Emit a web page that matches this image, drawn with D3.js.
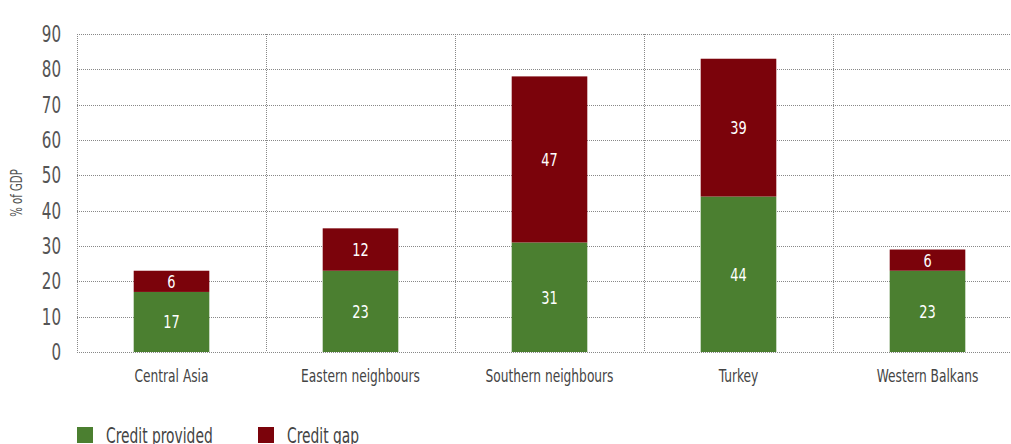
<!DOCTYPE html>
<html>
<head>
<meta charset="utf-8">
<script src="https://cdn.jsdelivr.net/npm/d3@7"></script>
<style>
  body { margin: 0; background: #fff; }
  text { font-family: "Liberation Sans Narrow", "DejaVu Sans Condensed", sans-serif; }
</style>
</head>
<body>
<div id="chart"></div>
<script>
var regions = ['Central Asia', 'Eastern neighbours', 'Southern neighbours', 'Turkey', 'Western Balkans'];
var provided = [17, 23, 31, 44, 23];
var gap = [6, 12, 47, 39, 6];
var seriesNames = ['Credit provided', 'Credit gap'];
var seriesColors = ['#4b7f30', '#7b030b'];
var yTicks = [0, 10, 20, 30, 40, 50, 60, 70, 80, 90];

var W = 1011, H = 444;
var m = { top: 34, left: 77, bottom: 92, plotW: 945 };
var plotH = H - m.top - m.bottom;

var svg = d3.select('#chart').append('svg').attr('width', W).attr('height', H);

var x = d3.scaleBand().domain(regions).range([m.left, m.left + m.plotW]).paddingInner(0.6).paddingOuter(0.3);
var y = d3.scaleLinear().domain([0, 90]).range([m.top + plotH, m.top]);

var rows = regions.map(function (r, i) { return { region: r, provided: provided[i], gap: gap[i] }; });
var stack = d3.stack().keys(['provided', 'gap'])(rows);

// squeeze text sideways around its own anchor x (no narrow font installed)
function condense(sel, sx) {
  sel.each(function () {
    var t = d3.select(this);
    var ax = +t.attr('x') || 0;
    var pre = t.attr('transform') || '';
    t.attr('transform', pre + ' translate(' + ax + ',0) scale(' + sx + ',1) translate(' + (-ax) + ',0)');
  });
}

// grid
var grid = svg.append('g');
grid.selectAll('line.h').data(yTicks).enter().append('line')
  .attr('x1', m.left).attr('x2', W)
  .attr('y1', function (d) { return Math.round(y(d)) + 0.5; })
  .attr('y2', function (d) { return Math.round(y(d)) + 0.5; })
  .attr('stroke', '#888').attr('stroke-width', 1).attr('stroke-dasharray', '1,1');
var step = x.step();
var vlines = d3.range(regions.length + 1).map(function (i) { return m.left + i * step; });
grid.selectAll('line.v').data(vlines).enter().append('line')
  .attr('x1', function (d) { return Math.round(d) + 0.5; })
  .attr('x2', function (d) { return Math.round(d) + 0.5; })
  .attr('y1', y(90)).attr('y2', y(0))
  .attr('stroke', '#888').attr('stroke-width', 1).attr('stroke-dasharray', '1,1');

// bars
var layer = svg.selectAll('g.layer').data(stack).enter().append('g')
  .attr('fill', function (d, i) { return seriesColors[i]; });
layer.selectAll('rect').data(function (d) { return d; }).enter().append('rect')
  .attr('x', function (d) { return x(d.data.region); })
  .attr('width', x.bandwidth())
  .attr('y', function (d) { return y(d[1]); })
  .attr('height', function (d) { return y(d[0]) - y(d[1]); });

var vals = layer.selectAll('text').data(function (d) { return d; }).enter().append('text')
  .attr('x', function (d) { return x(d.data.region) + x.bandwidth() / 2; })
  .attr('y', function (d) { return (y(d[0]) + y(d[1])) / 2; })
  .attr('dy', '0.36em')
  .attr('text-anchor', 'middle')
  .attr('fill', '#fff')
  .attr('font-size', 18)
  .text(function (d) { return d[1] - d[0]; });
condense(vals, 0.8);

// y axis
var yAxis = svg.append('g').attr('transform', 'translate(' + (m.left - 16) + ',0)')
  .call(d3.axisLeft(y).tickValues(yTicks).tickSize(0).tickPadding(0));
yAxis.select('.domain').remove();
yAxis.selectAll('text').attr('font-size', 23).attr('fill', '#555');
condense(yAxis.selectAll('text'), 0.73);

var yl = svg.append('text')
  .attr('transform', 'translate(22,' + y(45) + ') rotate(-90)')
  .attr('text-anchor', 'middle')
  .attr('font-size', 15).attr('fill', '#555')
  .text('% of GDP');
condense(yl, 0.75);

// x axis
var xAxis = svg.append('g').attr('transform', 'translate(0,' + (y(0) + 18) + ')')
  .call(d3.axisBottom(x).tickSize(0).tickPadding(0));
xAxis.select('.domain').remove();
xAxis.selectAll('text').attr('font-size', 17).attr('fill', '#444');
condense(xAxis.selectAll('text'), 0.8);

// legend
var lx = [77, 258];
var legend = svg.selectAll('g.legend').data(seriesNames).enter().append('g')
  .attr('transform', function (d, i) { return 'translate(' + lx[i] + ',427)'; });
legend.append('rect').attr('width', 16).attr('height', 16)
  .attr('fill', function (d, i) { return seriesColors[i]; });
var lt = legend.append('text').attr('x', 29).attr('y', 16)
  .attr('font-size', 22).attr('fill', '#444')
  .text(function (d) { return d; });
condense(lt, 0.7);
</script>
</body>
</html>
